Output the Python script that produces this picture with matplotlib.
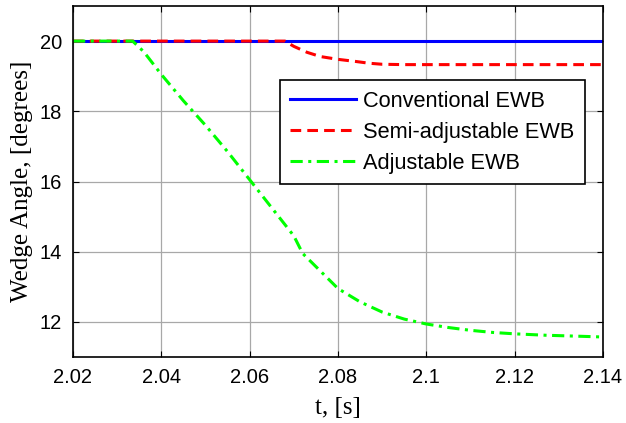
import matplotlib
matplotlib.use("Agg")
import matplotlib.pyplot as plt

# time samples [s] and wedge angle [degrees]
t_conv = [2.02, 2.14]
ang_conv = [20.0, 20.0]

t_semi = [2.02, 2.068, 2.070, 2.073, 2.076, 2.080, 2.084, 2.087, 2.090, 2.095, 2.14]
ang_semi = [20.0, 20.0, 19.85, 19.68, 19.56, 19.48, 19.42, 19.37, 19.34, 19.33, 19.33]

t_adj = [2.02, 2.0335, 2.036, 2.040, 2.045, 2.050, 2.055, 2.060, 2.065, 2.070,
         2.072, 2.076, 2.080, 2.085, 2.090, 2.095, 2.100, 2.105, 2.110,
         2.115, 2.120, 2.127, 2.135, 2.14]
ang_adj = [20.0, 20.0, 19.7, 19.05, 18.3, 17.6, 16.85, 16.05, 15.25, 14.45,
           13.95, 13.45, 12.95, 12.57, 12.28, 12.08, 11.94, 11.84, 11.76,
           11.70, 11.66, 11.62, 11.59, 11.57]

plt.rcParams["font.family"] = ["Liberation Sans", "DejaVu Sans"]
serif = ["Liberation Serif", "DejaVu Serif"]

fig = plt.figure(figsize=(6.26, 4.23), dpi=100)
ax = fig.add_axes([73 / 626, 1 - 357 / 423, 530 / 626, 351 / 423])

ax.plot(t_conv, ang_conv, color="#0000ff", lw=2.2, label="Conventional EWB")
ax.plot(t_semi, ang_semi, color="#ff0000", lw=2.2, ls=(0, (3.5, 2)),
        label="Semi-adjustable EWB")
ax.plot(t_adj, ang_adj, color="#00ff00", lw=2.2, ls=(0, (4, 1.8, 1, 1.8)),
        label="Adjustable EWB")

ax.set_xlim(2.02, 2.14)
ax.set_ylim(11, 21)
ax.set_xticks([2.02, 2.04, 2.06, 2.08, 2.1, 2.12, 2.14])
ax.set_xticklabels(["2.02", "2.04", "2.06", "2.08", "2.1", "2.12", "2.14"])
ax.set_yticks([12, 14, 16, 18, 20])
ax.grid(True, color="#a8a8a8", lw=0.9)
ax.tick_params(direction="in", top=True, right=True, length=4,
               labelsize=14.5, pad=8)
for s in ax.spines.values():
    s.set_linewidth(1.2)

ax.set_xlabel("t, [s]", family=serif, fontsize=18, labelpad=7)
ax.set_ylabel("Wedge Angle, [degrees]", family=serif, fontsize=18, labelpad=5)

leg = ax.legend(loc="upper right", bbox_to_anchor=(585 / 626, 1 - 80 / 423),
                bbox_transform=fig.transFigure, fontsize=15.7, fancybox=False,
                framealpha=1, edgecolor="black", borderpad=0.5,
                labelspacing=0.45, handlelength=3.0, handletextpad=0.32,
                borderaxespad=0)
leg.get_frame().set_linewidth(1.2)

fig.savefig("out.png", dpi=100)
